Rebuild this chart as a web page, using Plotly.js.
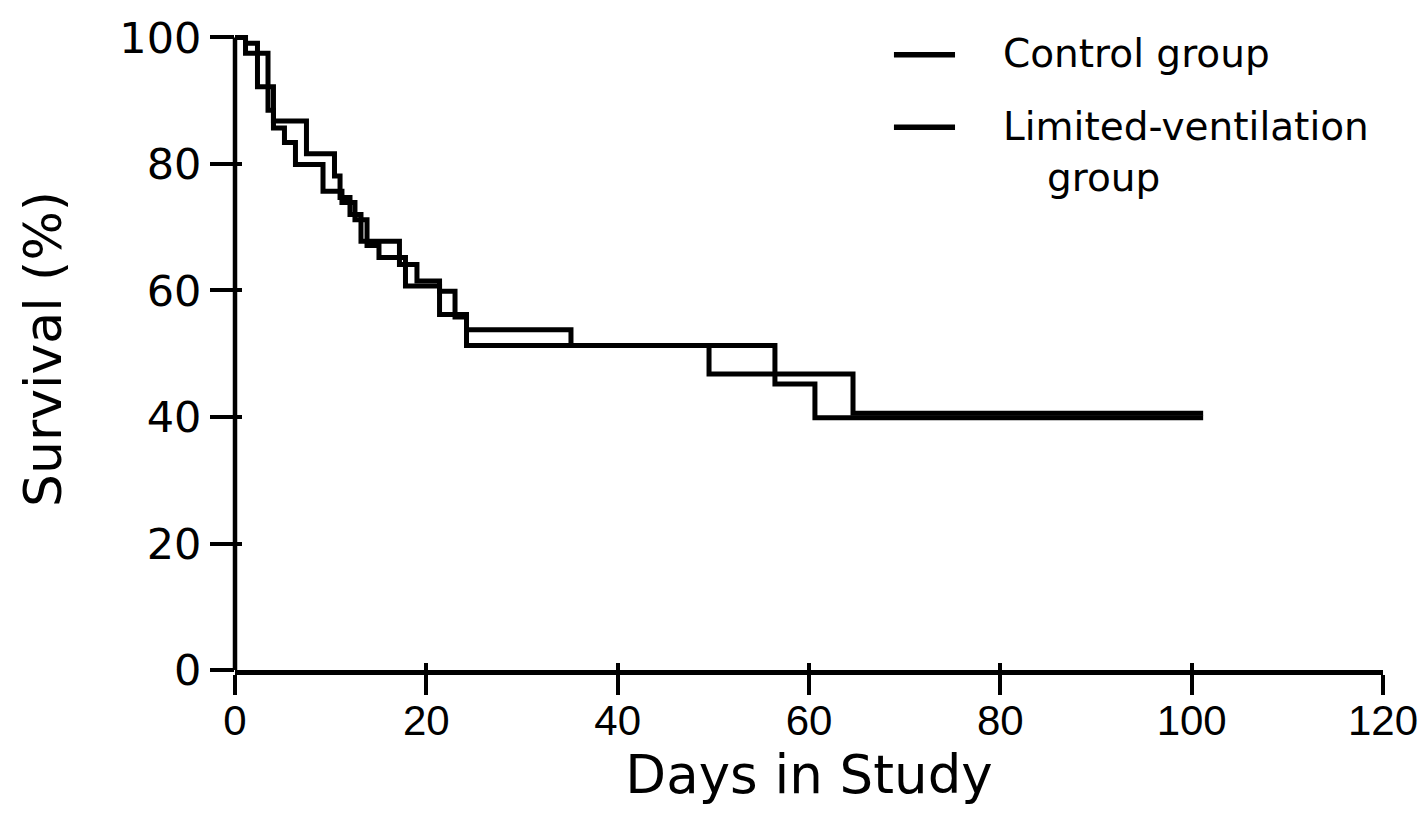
<!DOCTYPE html>
<html>
<head>
<meta charset="utf-8">
<script src="https://cdn.plot.ly/plotly-3.0.1.min.js"></script>
<style>
  html, body { margin: 0; padding: 0; background: #fff; }
  #chart { width: 1425px; height: 838px; }
</style>
</head>
<body>
<div id="chart"></div>
<script>
// ---- Data ----
const seriesNames = ["Control group", "Limited-ventilation\ngroup"];

// Kaplan-Meier steps: day of each step and survival (%) after the step
const controlDays = [0, 1.10, 2.35, 4.02, 7.47, 10.40, 10.98, 12.02, 13.17, 17.19, 19.02, 21.38, 23.00, 24.20, 35.12, 49.55, 64.60, 101.2];
const controlSurv = [100, 99.1, 92.2, 86.8, 81.6, 78.1, 74.7, 72.0, 67.8, 64.1, 61.5, 59.9, 55.8, 53.8, 51.3, 46.8, 40.6, 40.6];

const limitedDays = [0, 1.10, 3.45, 4.02, 5.17, 6.32, 9.20, 11.18, 12.54, 13.80, 15.05, 17.82, 21.38, 24.20, 56.44, 60.62, 101.2];
const limitedSurv = [100, 97.5, 88.5, 85.7, 83.4, 79.9, 75.7, 73.9, 71.2, 67.1, 65.2, 60.7, 56.2, 51.3, 45.2, 39.9, 39.9];

const xTicks = [0, 20, 40, 60, 80, 100, 120];
const yTicks = [0, 20, 40, 60, 80, 100];

const xTitle = "Days in Study";
const yTitle = "Survival (%)";

// ---- Styling ----
const FONT = "DejaVu Sans, Arial, sans-serif";
const XTICKFONT = "Liberation Sans, Arial, sans-serif";
const lineStyle = { color: "#000", width: 5, shape: "hv" };

const traces = [
  { x: controlDays, y: controlSurv, name: seriesNames[0], mode: "lines", line: lineStyle, xaxis: "x", yaxis: "y", hoverinfo: "skip" },
  { x: limitedDays, y: limitedSurv, name: seriesNames[1], mode: "lines", line: lineStyle, xaxis: "x", yaxis: "y", hoverinfo: "skip" },
  // empty helper traces so the overlay axes (inner half of the crossing ticks) get drawn
  { x: [], y: [], xaxis: "x", yaxis: "y2", mode: "lines", showlegend: false, hoverinfo: "skip" },
  { x: [], y: [], xaxis: "x2", yaxis: "y", mode: "lines", showlegend: false, hoverinfo: "skip" }
];

const Y_TOP = 101.5; // small headroom so the 100 % line is not clipped
const yRange = [yTicks[0], Y_TOP];
const xRange = [xTicks[0], xTicks[xTicks.length - 1]];

const commonHidden = { showgrid: false, zeroline: false };

const layout = {
  width: 1425, height: 838,
  margin: { l: 235, r: 42, t: 27.5, b: 168 },
  paper_bgcolor: "#fff", plot_bgcolor: "rgba(0,0,0,0)",
  showlegend: false,
  font: { family: FONT, color: "#000" },
  xaxis: Object.assign({}, commonHidden, {
    range: xRange, anchor: "y",
    showline: true, linecolor: "#000", linewidth: 5,
    ticks: "outside", ticklen: 20, tickwidth: 4, tickcolor: "#000",
    tickmode: "array", tickvals: xTicks, ticktext: xTicks.map(String),
    ticklabelstandoff: -10,
    tickfont: { family: XTICKFONT, size: 42, color: "#000" },
    title: { text: xTitle, font: { family: FONT, size: 53, color: "#000" }, standoff: 8 }
  }),
  xaxis2: Object.assign({}, commonHidden, {
    overlaying: "x", anchor: "y", side: "bottom", range: xRange,
    showline: false, ticks: "inside", ticklen: 7, tickwidth: 4, tickcolor: "#000",
    tickmode: "array", tickvals: xTicks, showticklabels: false
  }),
  yaxis: Object.assign({}, commonHidden, {
    range: yRange, anchor: "x",
    showline: false,
    ticks: "outside", ticklen: 24, tickwidth: 4, tickcolor: "#000",
    tickmode: "array", tickvals: yTicks, ticktext: yTicks.map(String),
    tickfont: { family: FONT, size: 43, color: "#000" },
    title: { text: yTitle, font: { family: FONT, size: 52, color: "#000" }, standoff: 41 }
  }),
  yaxis2: Object.assign({}, commonHidden, {
    overlaying: "y", anchor: "x", side: "left", range: yRange,
    showline: false, ticks: "inside", ticklen: 7, tickwidth: 4, tickcolor: "#000",
    tickmode: "array", tickvals: yTicks, showticklabels: false
  }),
  shapes: [
    // y axis line at the left edge of the plot, from the first to the last y tick only
    { type: "line", xref: "paper", yref: "y", layer: "above",
      x0: 0, x1: 0, y0: yTicks[0], y1: yTicks[yTicks.length - 1],
      line: { color: "#000", width: 4.5 } }
  ],
  annotations: []
};

// ---- Legend drawn as line samples + labels (paper coordinates) ----
const legendRows = [
  { y: 0.9585 },
  { y: 0.8455 }
];
seriesNames.forEach(function (name, i) {
  const yy = legendRows[i].y;
  layout.shapes.push({
    type: "line", xref: "paper", yref: "paper",
    x0: 0.574, x1: 0.6272, y0: yy, y1: yy,
    line: { color: "#000", width: 5.5 }
  });
  name.split("\n").forEach(function (part, j) {
    layout.annotations.push({
      xref: "paper", yref: "paper", x: 0.6672, y: yy, xanchor: "left", yanchor: "middle",
      yshift: -j * 51 + 1, xshift: j * 44,
      text: part, showarrow: false,
      font: { family: FONT, size: 39, color: "#000" }
    });
  });
});

Plotly.newPlot("chart", traces, layout, { staticPlot: true, displayModeBar: false });
</script>
</body>
</html>
